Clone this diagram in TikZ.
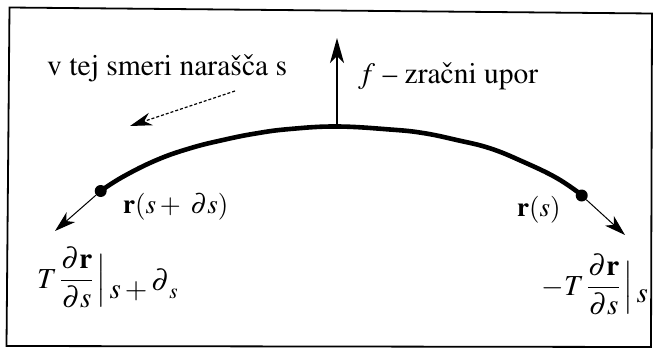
\documentclass[tikz,border=0pt]{standalone}
\usepackage{amsmath}
\usepackage{graphicx}
\usepackage[T1]{fontenc}
\usepackage{mathptmx}
\usepackage{fontspec}
\setmainfont{Liberation Serif}
\newcommand{\timesT}{\fontencoding{T1}\fontfamily{ptm}}
\usetikzlibrary{arrows.meta}
\begin{document}
\begin{tikzpicture}[x=1pt,y=-1pt,
  frame/.style={line width=1.8pt, line join=miter},
  curve/.style={line width=4.6pt, line cap=round},
  dotnode/.style={circle, fill=black, inner sep=0pt, minimum size=12pt},
  thinarrow/.style={line width=1pt, -{Stealth[length=21pt,width=13pt,inset=6pt]}},
  uparrow/.style={line width=1.6pt, -{Stealth[length=25pt,width=14pt,inset=7pt]}},
  dasharrow/.style={line width=1.2pt, dash pattern=on 3pt off 2pt, -{Stealth[length=22pt,width=13pt,inset=7pt]}},
  textlabel/.style={inner sep=0pt, font=\timesT\fontsize{30}{32}\selectfont},
  mathlabel/.style={inner sep=0pt, font=\fontsize{27}{29}\selectfont},
  fraclabel/.style={inner sep=0pt, font=\fontsize{29}{31}\selectfont}
]
\useasboundingbox (0,0) rectangle (654,348);
% frame (slightly rotated scan)
\draw[frame] (9.5,7.5) -- (652,13.5) -- (651,347) -- (6.5,346) -- cycle;
% main curve
\draw[curve] plot[smooth, tension=0.7] coordinates {(100.7,191) (123,176.7) (156.7,160) (190,148.3) (223,140) (256.7,133.3) (290,129) (336.7,126.5) (390,129.5) (423,133) (456.7,140) (490,148.3) (523,161.7) (556.7,178) (581.7,195)};
% points
\node[dotnode] (L) at (100.7,191) {};
\node[dotnode] (R) at (581.7,195.5) {};
\coordinate (apex) at (337,127);
\coordinate (ftip) at (337,38);
\coordinate (Ltip) at (55,231);
\coordinate (Rtip) at (625,235);
\coordinate (dA) at (235,91);
\coordinate (dB) at (130,126);
% arrows
\draw[uparrow] (apex) -- (ftip);
\draw[thinarrow] (L) -- (Ltip);
\draw[thinarrow] (R) -- (Rtip);
\draw[dasharrow] (dA) -- (dB);
% labels
\node[textlabel, anchor=base west] (dir) at (47,75) {\resizebox{240pt}{!}{v tej smeri nara\v{s}\v{c}a s}};
\node[textlabel, anchor=base west] (flab) at (358,83) {\resizebox{180pt}{!}{$f$ -- zra\v{c}ni upor}};
\node[mathlabel, anchor=base west] (rL) at (123,213) {$\mathbf{r}(s + \;\partial s)$};
\node[mathlabel, anchor=base west] (rR) at (517,216) {$\mathbf{r}(s)$};
\node[fraclabel, anchor=base west] (tL) at (37,288) {$T\,\dfrac{\partial\mathbf{r}}{\partial s}\,\Big|\,\raisebox{-0.35em}{$s+\raisebox{0.25em}{$\partial$}{\scriptstyle s}$}$};
\node[fraclabel, anchor=base east] (tR) at (648,295) {$-T\,\dfrac{\partial\mathbf{r}}{\partial s}\,\Big|\,\raisebox{-0.25em}{$s$}$};
\end{tikzpicture}
\end{document}
